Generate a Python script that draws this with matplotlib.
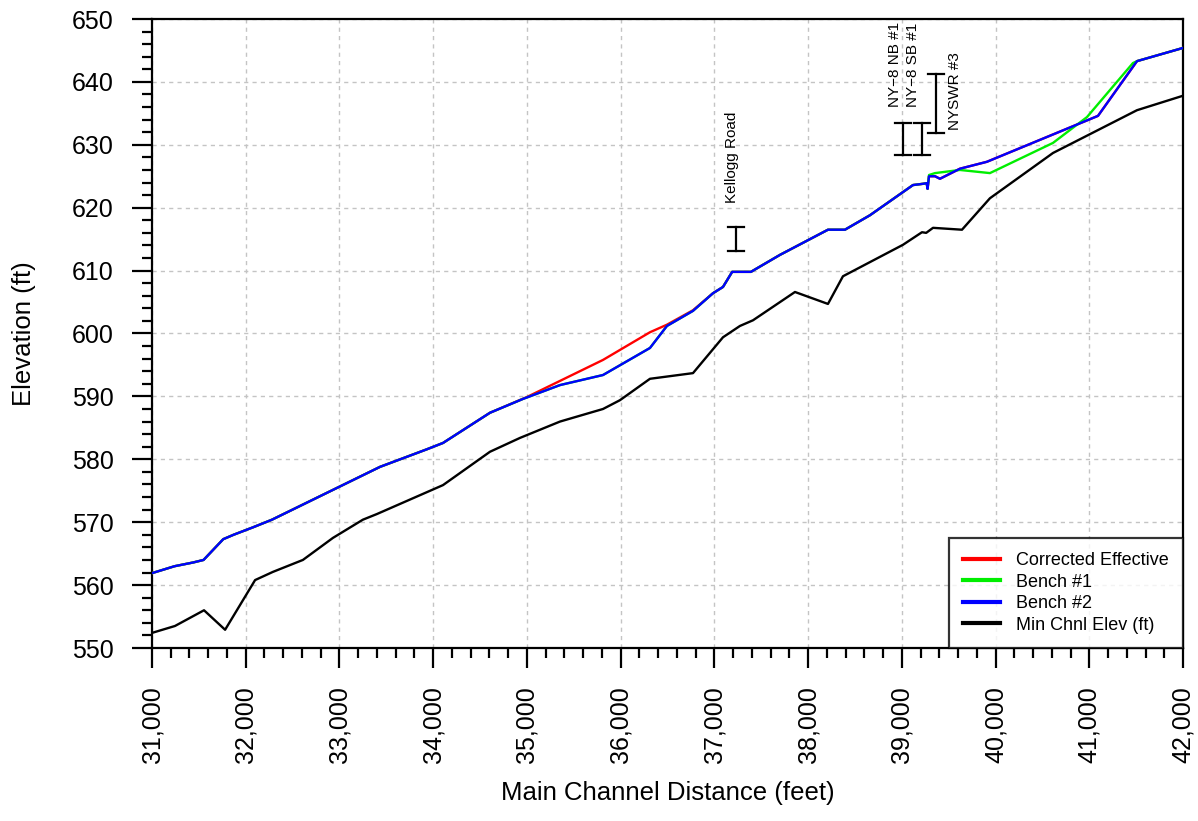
import matplotlib
matplotlib.use("Agg")
import matplotlib.pyplot as plt
from matplotlib.ticker import MultipleLocator, FuncFormatter

plt.rcParams['font.family'] = ['Liberation Sans', 'DejaVu Sans']

# ---------------- data ----------------
corr_sta = [31000, 31240, 31440, 31550, 31760, 31870, 32080, 32280, 33433, 33934,
            34105, 34606, 35000, 35812, 36313, 36494, 36772, 36985, 37092, 37190,
            37390, 37700, 38212, 38393, 38660, 39119, 39226, 39265, 39275, 39290,
            39354, 39407, 39620, 39908, 41093, 41509, 42000]
corr_elev = [561.9, 563.0, 563.6, 564.0, 567.3, 568.0, 569.2, 570.4, 578.8, 581.6,
             582.6, 587.4, 589.9, 595.8, 600.2, 601.4, 603.7, 606.4, 607.4, 609.8,
             609.8, 612.5, 616.5, 616.5, 618.8, 623.6, 623.8, 623.9, 623.0, 625.0,
             625.0, 624.6, 626.2, 627.3, 634.6, 643.3, 645.4]

bench1_sta = [31000, 31240, 31440, 31550, 31760, 31870, 32080, 32280, 33433, 33934,
              34105, 34606, 34958, 35353, 35812, 36313, 36494, 36772, 36985, 37092,
              37190, 37390, 37700, 38212, 38393, 38660, 39119, 39226, 39265, 39275,
              39290, 39354, 39620, 39940, 40613, 40975, 41466, 41509, 42000]
bench1_elev = [561.9, 563.0, 563.6, 564.0, 567.3, 568.0, 569.2, 570.4, 578.8, 581.6,
               582.6, 587.4, 589.6, 591.8, 593.4, 597.7, 601.2, 603.6, 606.4, 607.4,
               609.8, 609.8, 612.5, 616.5, 616.5, 618.8, 623.6, 623.8, 623.9, 623.0,
               625.2, 625.5, 626.0, 625.5, 630.3, 634.4, 643.0, 643.3, 645.4]

bench2_sta = [31000, 31240, 31440, 31550, 31760, 31870, 32080, 32280, 33433, 33934,
              34105, 34606, 34958, 35353, 35812, 36313, 36494, 36772, 36985, 37092,
              37190, 37390, 37700, 38212, 38393, 38660, 39119, 39226, 39265, 39275,
              39290, 39354, 39407, 39620, 39908, 41093, 41509, 42000]
bench2_elev = [561.9, 563.0, 563.6, 564.0, 567.3, 568.0, 569.2, 570.4, 578.8, 581.6,
               582.6, 587.4, 589.6, 591.8, 593.4, 597.7, 601.2, 603.6, 606.4, 607.4,
               609.8, 609.8, 612.5, 616.5, 616.5, 618.8, 623.6, 623.8, 623.9, 623.0,
               625.0, 625.0, 624.6, 626.2, 627.3, 634.6, 643.3, 645.4]

chnl_sta = [31000, 31245, 31555, 31780, 32100, 32290, 32610, 32930, 33250, 33400,
            34105, 34606, 34926, 35353, 35812, 35993, 36313, 36772, 37092, 37273,
            37412, 37860, 38212, 38372, 39012, 39215, 39260, 39333, 39642, 39940,
            40613, 41509, 42000]
chnl_elev = [552.4, 553.5, 556.0, 552.9, 560.8, 562.1, 564.0, 567.5, 570.4, 571.3,
             575.9, 581.2, 583.4, 586.0, 588.0, 589.4, 592.8, 593.7, 599.4, 601.2,
             602.1, 606.6, 604.7, 609.1, 614.1, 616.1, 616.0, 616.8, 616.5, 621.5,
             628.7, 635.5, 637.8]

bridge_names = ["Kellogg Road", "NY\u22128 NB #1", "NY\u22128 SB #1", "NYSWR #3"]
bridge_sta = [37231, 39012, 39215, 39365]
bridge_low = [613.1, 628.4, 628.4, 631.9]
bridge_high = [617.0, 633.5, 633.5, 641.3]
label_sta = [37188, 38927, 39119, 39567]
label_elev = [620.7, 636.0, 636.0, 632.4]

series_labels = ["Corrected Effective", "Bench #1", "Bench #2", "Min Chnl Elev (ft)"]
series_colors = ["#ff0000", "#00ee00", "#0000ff", "#000000"]

# ---------------- figure ----------------
fig = plt.figure(figsize=(11.98, 8.21), dpi=100)
ax = fig.add_axes([152/1198, 1-648/821, (1183-152)/1198, (648-19)/821])

lw = 1.7
ax.plot(corr_sta, corr_elev, color=series_colors[0], lw=lw, label=series_labels[0], zorder=3)
ax.plot(bench1_sta, bench1_elev, color=series_colors[1], lw=lw, label=series_labels[1], zorder=4)
ax.plot(bench2_sta, bench2_elev, color=series_colors[2], lw=lw, label=series_labels[2], zorder=5)
ax.plot(chnl_sta, chnl_elev, color=series_colors[3], lw=lw, label=series_labels[3], zorder=5)

cap = 85
for name, s, lo, hi, ls, le in zip(bridge_names, bridge_sta, bridge_low, bridge_high,
                                   label_sta, label_elev):
    ax.plot([s, s], [lo, hi], color='black', lw=1.6, zorder=6)
    ax.plot([s - cap, s + cap], [lo, lo], color='black', lw=1.6, zorder=6)
    ax.plot([s - cap, s + cap], [hi, hi], color='black', lw=1.6, zorder=6)
    ax.text(ls, le, name, rotation=90, ha='center', va='bottom', fontsize=11,
            color='black', zorder=7)

ax.set_xlim(31000, 42000)
ax.set_ylim(550, 650)
ax.xaxis.set_major_locator(MultipleLocator(1000))
ax.xaxis.set_minor_locator(MultipleLocator(200))
ax.yaxis.set_major_locator(MultipleLocator(10))
ax.yaxis.set_minor_locator(MultipleLocator(2))
ax.xaxis.set_major_formatter(FuncFormatter(lambda v, p: f"{v:,.0f}"))
ax.tick_params(axis='both', which='major', direction='out', length=14.4, width=1.6,
               labelsize=18, pad=13, color='black')
ax.tick_params(axis='both', which='minor', direction='out', length=7.2, width=1.6,
               color='black')
ax.tick_params(axis='x', which='major', labelrotation=90)
for sp in ax.spines.values():
    sp.set_linewidth(1.6)
ax.grid(True, which='major', color='#c4c4c4', linestyle=(0, (3, 3)), linewidth=1.0)
ax.set_axisbelow(True)

ax.set_xlabel("Main Channel Distance (feet)", fontsize=18.5, labelpad=13)
ax.set_ylabel("Elevation (ft)", fontsize=18.5, labelpad=26)

leg = ax.legend(loc='lower right', borderaxespad=0, fontsize=13, frameon=True,
                fancybox=False, edgecolor='black', handlelength=2.0, labelspacing=0.25,
                borderpad=0.8, handletextpad=0.9)
leg.get_frame().set_linewidth(1.6)
for h in leg.get_lines():
    h.set_linewidth(3)

fig.savefig("out.png", dpi=100)
